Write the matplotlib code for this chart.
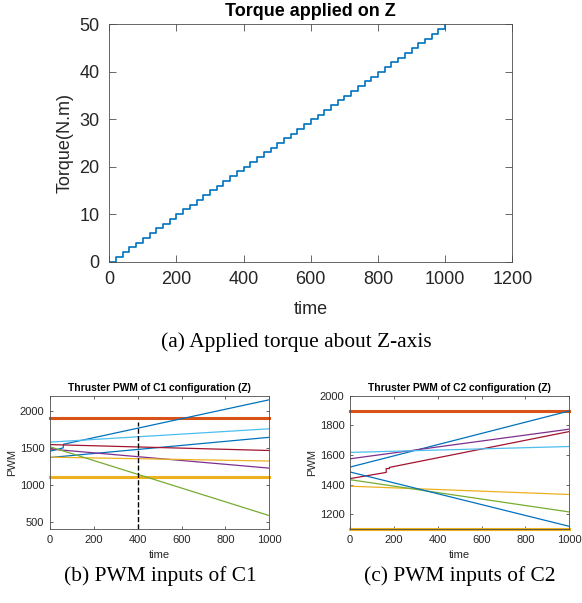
import matplotlib
matplotlib.use("Agg")
import matplotlib.pyplot as plt
import numpy as np

plt.rcParams['font.family'] = ['Liberation Sans', 'DejaVu Sans']

# MATLAB default colour order
BLUE = '#0072BD'
RED = '#D95319'
YELLOW = '#EDB120'
PURPLE = '#7E2F8E'
GREEN = '#77AC30'
LIGHTBLUE = '#4DBEEE'
DARKRED = '#A2142F'

# (a) torque staircase: +1 N.m every 20 s
step_times = np.arange(0, 1001, 20)
torque_levels = np.arange(0, 51)

# PWM limits (saturation lines)
pwm_max = 1900
pwm_min = 1100

# (b) C1 thruster PWM, (time, pwm) points
c1_series = [
    (BLUE,      [0, 60, 62, 1000],  [1450, 1495, 1545, 2145]),
    (LIGHTBLUE, [0, 1000],          [1573, 1753]),
    (BLUE,      [0, 1000],          [1365, 1638]),
    (DARKRED,   [0, 1000],          [1540, 1460]),
    (PURPLE,    [0, 1000],          [1480, 1222]),
    (YELLOW,    [0, 1000],          [1370, 1318]),
    (GREEN,     [0, 1000],          [1510, 581]),
]
c1_marker_time = 400
c1_marker_top = 1850

# (c) C2 thruster PWM
c2_series = [
    (BLUE,      [0, 1000],                         [1518, 1897]),
    (PURPLE,    [0, 1000],                         [1574, 1774]),
    (DARKRED,   [0, 165, 165, 180, 180, 1000],     [1440, 1482, 1508, 1508, 1516, 1758]),
    (LIGHTBLUE, [0, 1000],                         [1617, 1657]),
    (YELLOW,    [0, 1000],                         [1389, 1333]),
    (GREEN,     [0, 1000],                         [1433, 1215]),
    (BLUE,      [0, 1000],                         [1485, 1118]),
]

W, H = 582, 603
fig = plt.figure(figsize=(W / 100, H / 100), dpi=100)
TXT = '#262626'


def px_axes(left, top, right, bottom):
    return fig.add_axes([left / W, 1 - bottom / H, (right - left) / W, (bottom - top) / H])


def place_labels(ax, box, title_y, xlabel_y, ylabel_x, title, xlabel, ylabel, tsize, lsize):
    # box = (left, top, right, bottom) in pixels; label positions in pixels
    left, top, right, bottom = box
    w, h = right - left, bottom - top
    ax.set_title(title, fontsize=tsize, fontweight='bold', va='center',
                 y=(bottom - title_y) / h, pad=0)
    ax.set_xlabel(xlabel, fontsize=lsize, color=TXT, va='center')
    ax.xaxis.set_label_coords(0.5, -(xlabel_y - bottom) / h)
    ax.set_ylabel(ylabel, fontsize=lsize, color=TXT, va='center')
    ax.yaxis.set_label_coords((ylabel_x - left) / w, 0.5)


def matlab_style(ax, size, pad, length):
    for s in ax.spines.values():
        s.set_color('#4d4d4d')
        s.set_linewidth(0.6)
    ax.tick_params(direction='in', top=True, right=True, labelsize=size,
                   colors='#4d4d4d', labelcolor=TXT, length=length, width=0.6, pad=pad)


# ---- top chart ----
box_a = (109.3, 24.3, 512.3, 261.7)
ax = px_axes(*box_a)
ax.step(step_times, torque_levels, where='post', color=BLUE, lw=1.2)
ax.set_xlim(0, 1200)
ax.set_ylim(0, 50)
ax.set_xticks(range(0, 1201, 200))
ax.set_yticks(range(0, 51, 10))
matlab_style(ax, 13, 7, 5)
place_labels(ax, box_a, 12, 310, 65, 'Torque applied on Z', 'time', 'Torque(N.m)', 13, 13)
fig.text(296 / W, 1 - 342 / H, '(a) Applied torque about Z-axis', ha='center', va='center',
         fontsize=15.4, family='Liberation Serif')


def pwm_panel(left, series, ylim, yticks, title):
    box = (left, 395.7, left + 219.3, 529)
    ax = px_axes(*box)
    ax.axhline(pwm_max, color=RED, lw=2.2, clip_on=False)
    ax.axhline(pwm_min, color=YELLOW, lw=2.2, clip_on=False)
    for color, t, v in series:
        ax.plot(t, v, color=color, lw=0.9)
    ax.set_xlim(0, 1000)
    ax.set_ylim(*ylim)
    ax.set_xticks(range(0, 1001, 200))
    ax.set_yticks(yticks)
    matlab_style(ax, 8, 4, 2.5)
    place_labels(ax, box, 388.3, 555, left - 37.7, title, 'time', 'PWM', 7.4, 8)
    return ax


ax1 = pwm_panel(50, c1_series, (400, 2200), range(500, 2001, 500),
                'Thruster PWM of C1 configuration (Z)')
ax1.plot([c1_marker_time, c1_marker_time], [400, c1_marker_top], color='black', lw=1, ls='--')
ax2 = pwm_panel(350, c2_series, (1100, 2000), range(1200, 2001, 200),
                'Thruster PWM of C2 configuration (Z)')

fig.text(160 / W, 1 - 576 / H, '(b) PWM inputs of C1', ha='center', va='center',
         fontsize=15.4, family='Liberation Serif')
fig.text(460 / W, 1 - 576 / H, '(c) PWM inputs of C2', ha='center', va='center',
         fontsize=15.4, family='Liberation Serif')

fig.savefig('out.png', dpi=100, facecolor='white')
plt.close(fig)
